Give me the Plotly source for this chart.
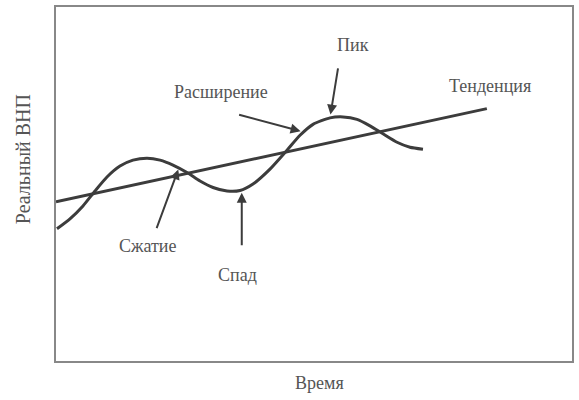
import plotly.graph_objects as go

cycle_t = [0.19, 2.71, 5.23, 7.56, 9.88, 12.40, 14.92, 17.64, 20.16, 22.67, 25.39, 27.91,
           30.43, 33.14, 35.66, 38.18, 41.47, 44.77, 47.29, 49.81, 53.10, 55.62, 58.33,
           60.85, 63.37, 66.09, 68.60, 71.12]
cycle_y = [37.36, 40.17, 43.82, 48.03, 51.97, 55.06, 56.74, 57.30, 56.74, 55.34, 53.23, 50.84,
           49.02, 48.03, 48.17, 50.00, 54.21, 59.55, 63.76, 66.85, 68.68, 68.96, 68.26,
           66.43, 64.19, 61.80, 60.39, 59.83]

# Trend line
trend_t = [0.0, 83.5]
trend_y = [45.0, 71.3]

# Labels
labels = ["Пик", "Расширение", "Тенденция", "Сжатие", "Спад"]
label_t = [57.5, 32.0, 84.1, 17.8, 35.2]
label_y = [89.4, 76.1, 77.8, 32.6, 24.4]

# Arrows: tail -> head
arrow_tail_t = [19.4, 36.0, 35.2, 54.7]
arrow_tail_y = [37.1, 32.3, 69.7, 83.1]
arrow_head_t = [23.7, 36.0, 47.4, 53.2]
arrow_head_y = [54.1, 47.5, 64.9, 69.6]

LINE = "#3c3c3c"
TEXT = "#555555"
FONT = "Liberation Serif"

fig = go.Figure()
fig.add_trace(go.Scatter(x=trend_t, y=trend_y, mode="lines",
                         line=dict(color=LINE, width=3), hoverinfo="skip"))
fig.add_trace(go.Scatter(x=cycle_t, y=cycle_y, mode="lines",
                         line=dict(color=LINE, width=3, shape="spline", smoothing=0.6),
                         hoverinfo="skip"))

ann = []
for txt, t, y in zip(labels, label_t, label_y):
    ann.append(dict(x=t, y=y, xref="x", yref="y", text=txt, showarrow=False,
                    xanchor="center", yanchor="middle",
                    font=dict(family=FONT, size=18, color=TEXT)))
for tt, ty, ht, hy in zip(arrow_tail_t, arrow_tail_y, arrow_head_t, arrow_head_y):
    ann.append(dict(x=ht, y=hy, xref="x", yref="y", ax=tt, ay=ty, axref="x", ayref="y",
                    text="", showarrow=True, arrowhead=2, arrowsize=1, arrowwidth=2,
                    arrowcolor=LINE, standoff=0))
ann.append(dict(x=0.51, y=-0.062, xref="paper", yref="paper", text="Время",
                xanchor="center", yanchor="middle",
                showarrow=False, font=dict(family=FONT, size=18, color=TEXT)))
ann.append(dict(x=-0.064, y=0.57, xref="paper", yref="paper", text="Реальный ВНП",
                xanchor="center", yanchor="middle",
                textangle=-90, showarrow=False, font=dict(family=FONT, size=20, color=TEXT)))

fig.update_layout(
    width=579, height=400,
    margin=dict(l=56, r=7, t=5, b=39),
    paper_bgcolor="white", plot_bgcolor="white",
    showlegend=False,
    annotations=ann,
    xaxis=dict(range=[0, 100], showgrid=False, zeroline=False, showticklabels=False,
               ticks="", showline=True, mirror=True, linecolor="#888888", linewidth=2),
    yaxis=dict(range=[0, 100], showgrid=False, zeroline=False, showticklabels=False,
               ticks="", showline=True, mirror=True, linecolor="#888888", linewidth=2),
)

fig.write_html("out.html", config={"displayModeBar": False},
               post_script="document.body.style.margin='0';document.body.style.overflow='hidden';")
